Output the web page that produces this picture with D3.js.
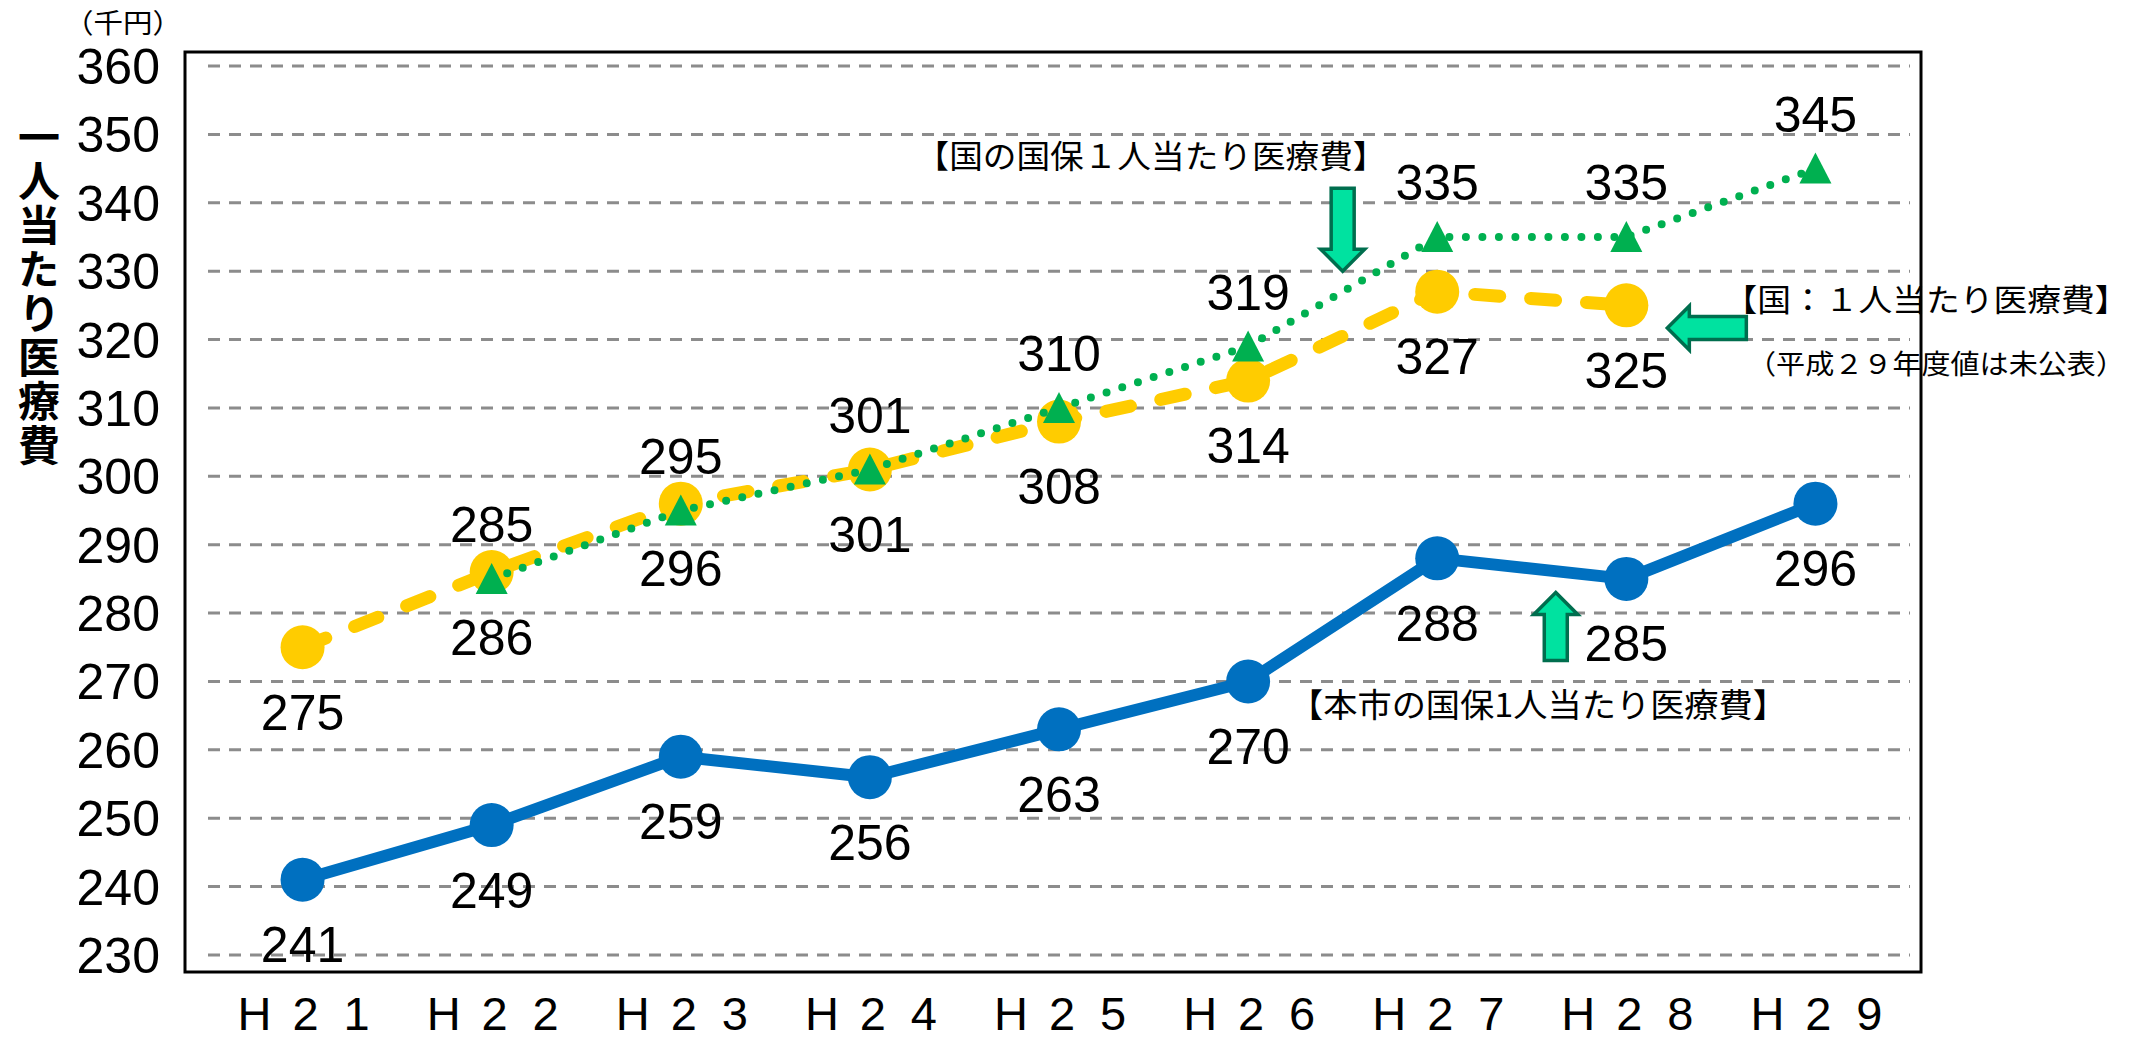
<!DOCTYPE html>
<meta charset="utf-8">
<html>
<head>
  <script src="https://d3js.org/d3.v7.min.js" charset="utf-8"></script>
</head>
<style>
* { margin: 0; padding: 0; }
body { background-color: white; }
svg text { fill: black; }
.num { font-family: "Liberation Sans", Arial, sans-serif; font-size: 50px; }
.jp { font-family: "Noto Sans CJK JP", sans-serif; }
</style>
<body>
<div id="container"></div>
<script type="text/javascript">

// categories (fiscal years) and the three series, in thousand yen
var categories = ["H21", "H22", "H23", "H24", "H25", "H26", "H27", "H28", "H29"]
var cityValues = [241, 249, 259, 256, 263, 270, 288, 285, 296]
var nationalValues = [275, 286, 296, 301, 308, 314, 327, 325, null]
var kokuhoValues = [null, 285, 295, 301, 310, 319, 335, 335, 345]
var yTicks = [230, 240, 250, 260, 270, 280, 290, 300, 310, 320, 330, 340, 350, 360]

var width = 2138
var height = 1041
var frame = {left: 185, right: 1921, top: 52, bottom: 972}
var plot = {left: 208, right: 1910, top: 66, bottom: 955}

var blue = "#0070c0"
var gold = "#ffcc00"
var green = "#00b050"
var arrowFill = "#00e2a0"
var arrowStroke = "#006e4e"

var svg = d3.select("#container")
            .append("svg")
            .attr("width", width)
            .attr("height", height)

var x = d3.scalePoint().domain(categories).range([plot.left, plot.right]).padding(0.5)
var y = d3.scaleLinear().domain([230, 360]).range([plot.bottom, plot.top])

svg.append("rect")
   .attr("x", frame.left).attr("y", frame.top)
   .attr("width", frame.right - frame.left).attr("height", frame.bottom - frame.top)
   .attr("fill", "white")

// dashed gridlines
svg.append("g").selectAll("line")
   .data(yTicks)
   .enter()
   .append("line")
   .attr("x1", plot.left).attr("x2", plot.right)
   .attr("y1", (d) => y(d)).attr("y2", (d) => y(d))
   .attr("stroke", "#8c8c8c")
   .attr("stroke-width", 3)
   .attr("stroke-dasharray", "12,9")

// y axis
var yAxis = d3.axisLeft(y).tickValues(yTicks).tickSize(0).tickPadding(0)
var yg = svg.append("g").attr("transform", "translate(160,0)").call(yAxis)
yg.select(".domain").remove()
yg.selectAll("text")
  .attr("dy", "0.35em")
  .style("font-family", "'Liberation Sans', Arial, sans-serif")
  .style("font-size", "50px")
  .attr("fill", "black")

// x axis: each character spaced out like the full-width original
var xg = svg.append("g")
categories.forEach(function(c) {
  var chars = c.split("")
  xg.append("g").selectAll("text")
    .data(chars)
    .enter()
    .append("text")
    .attr("class", "num")
    .style("font-size", "47px")
    .attr("text-anchor", "middle")
    .attr("x", (d, i) => x(c) + (i - 1) * 51 + 3)
    .attr("y", 1030)
    .text((d) => d)
})

svg.append("text")
   .attr("class", "jp")
   .attr("x", 123).attr("y", 24)
   .attr("dy", "0.35em")
   .attr("text-anchor", "middle")
   .attr("textLength", 118)
   .attr("lengthAdjust", "spacingAndGlyphs")
   .style("font-size", "27px")
   .text("（千円）")

// vertical axis title
svg.append("text")
   .attr("class", "jp")
   .attr("x", 39)
   .attr("y", 292)
   .attr("text-anchor", "middle")
   .style("writing-mode", "vertical-rl")
   .style("font-size", "42px")
   .style("font-weight", "bold")
   .style("letter-spacing", "2px")
   .text("一人当たり医療費")

function seriesData(values) {
  return values.map((v, i) => ({cat: categories[i], value: v}))
}

var line = d3.line()
             .defined((d) => d.value != null)
             .x((d) => x(d.cat))
             .y((d) => y(d.value))

// national average (dashed gold)
var national = seriesData(nationalValues)
svg.append("path")
   .datum(national)
   .attr("d", line)
   .attr("fill", "none")
   .attr("stroke", gold)
   .attr("stroke-width", 13)
   .attr("stroke-linecap", "round")
   .attr("stroke-dasharray", "25,31")

svg.append("g").selectAll("circle")
   .data(national.filter((d) => d.value != null))
   .enter()
   .append("circle")
   .attr("cx", (d) => x(d.cat))
   .attr("cy", (d) => y(d.value))
   .attr("r", 22)
   .attr("fill", gold)

// national kokuho (dotted green)
var kokuho = seriesData(kokuhoValues)
svg.append("path")
   .datum(kokuho)
   .attr("d", line)
   .attr("fill", "none")
   .attr("stroke", green)
   .attr("stroke-width", 8)
   .attr("stroke-linecap", "round")
   .attr("stroke-dasharray", "0,16.5")

svg.append("g").selectAll("path")
   .data(kokuho.filter((d) => d.value != null))
   .enter()
   .append("path")
   .attr("transform", (d) => "translate(" + x(d.cat) + "," + y(d.value) + ")")
   .attr("d", "M0,-16L16,15L-16,15Z")
   .attr("fill", green)

// city (solid blue)
var city = seriesData(cityValues)
svg.append("path")
   .datum(city)
   .attr("d", line)
   .attr("fill", "none")
   .attr("stroke", blue)
   .attr("stroke-width", 12)
   .attr("stroke-linejoin", "round")

svg.append("g").selectAll("circle")
   .data(city)
   .enter()
   .append("circle")
   .attr("cx", (d) => x(d.cat))
   .attr("cy", (d) => y(d.value))
   .attr("r", 22)
   .attr("fill", blue)

// value labels
function addLabels(data, offset) {
  svg.append("g").selectAll("text")
     .data(data.filter((d) => d.value != null))
     .enter()
     .append("text")
     .attr("class", "num")
     .attr("text-anchor", "middle")
     .attr("x", (d) => x(d.cat))
     .attr("y", (d) => y(d.value) + offset)
     .attr("dy", "0.35em")
     .text((d) => d.value)
}
addLabels(city, 65)
addLabels(national, 65)
addLabels(kokuho, -54)

// annotations
function arrow(tipX, tipY, angle, len) {
  var sw = 23, hw = 44, hl = 22
  var pts = [[0, 0], [hw / 2, hl], [sw / 2, hl], [sw / 2, len], [-sw / 2, len], [-sw / 2, hl], [-hw / 2, hl]]
  svg.append("polygon")
     .attr("points", pts.map((p) => p.join(",")).join(" "))
     .attr("transform", "translate(" + tipX + "," + tipY + ") rotate(" + angle + ")")
     .attr("fill", arrowFill)
     .attr("stroke", arrowStroke)
     .attr("stroke-width", 3.5)
     .attr("stroke-linejoin", "miter")
}

function note(txt, cx, cy, size, len) {
  svg.append("text")
     .attr("class", "jp")
     .attr("x", cx).attr("y", cy)
     .attr("dy", "0.35em")
     .attr("text-anchor", "middle")
     .attr("textLength", len)
     .attr("lengthAdjust", "spacingAndGlyphs")
     .style("font-size", size + "px")
     .text(txt)
}

var midH26 = (x("H26") + x("H27")) / 2
var midH27 = (x("H27") + x("H28")) / 2

note("【国の国保１人当たり医療費】", 1151, 157, 32, 471)
arrow(midH26, y(330), 180, 83)

note("【国：１人当たり医療費】", 1926, 300, 31, 405)
note("（平成２９年度値は未公表）", 1936, 365, 27, 378)
arrow(x("H28") + 41, y(321.7), -90, 79)

arrow(midH27 + 24, y(283), 0, 68)
note("【本市の国保1人当たり医療費】", 1538, 705, 33, 498)

// plot frame on top
svg.append("rect")
   .attr("x", frame.left).attr("y", frame.top)
   .attr("width", frame.right - frame.left).attr("height", frame.bottom - frame.top)
   .attr("fill", "none")
   .attr("stroke", "black")
   .attr("stroke-width", 3)

</script>
</body>
</html>
